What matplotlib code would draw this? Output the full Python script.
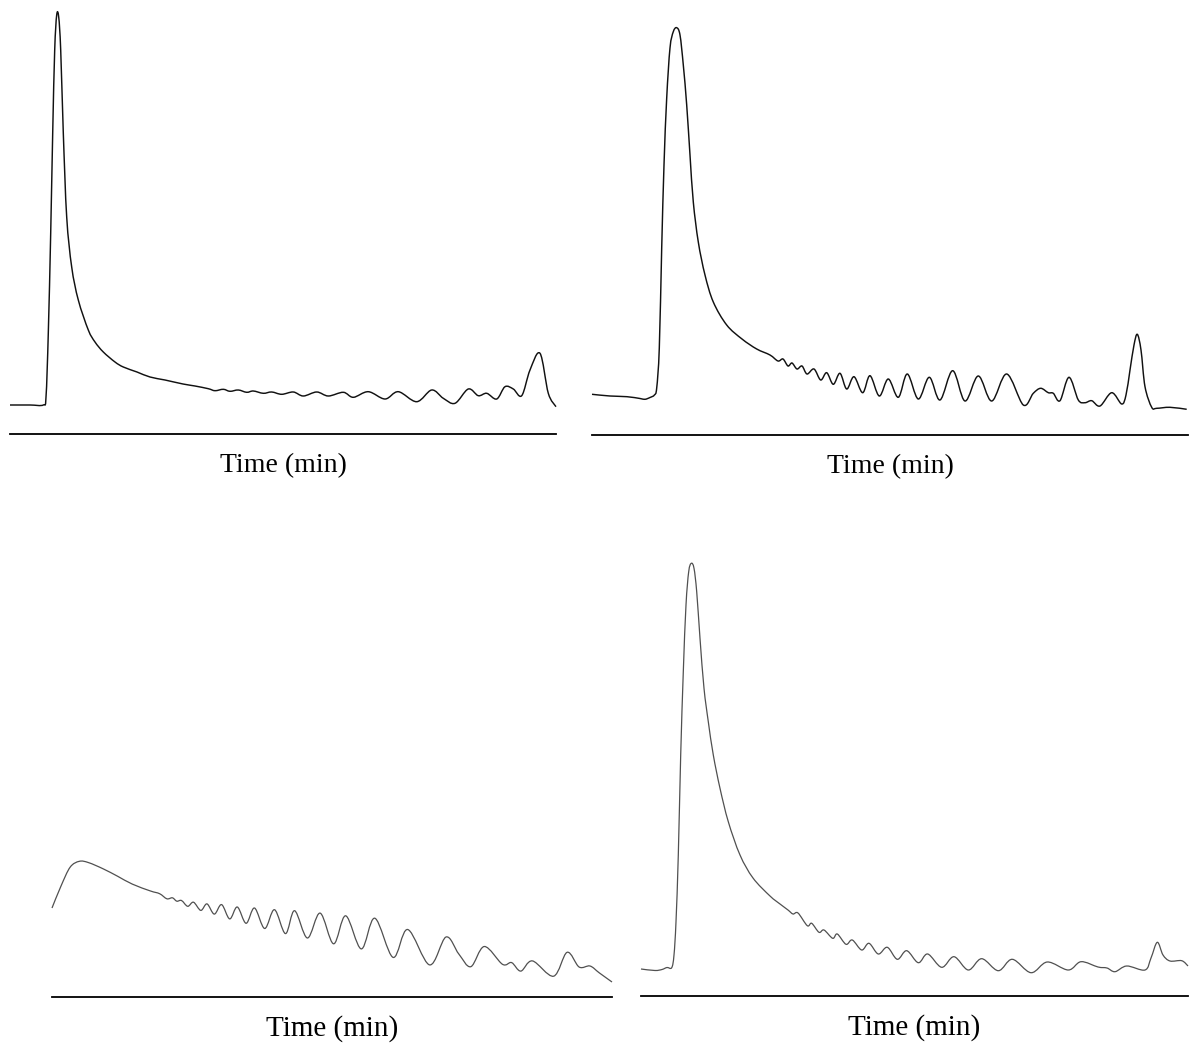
import matplotlib
matplotlib.use("Agg")
import matplotlib.pyplot as plt
from matplotlib.path import Path
from matplotlib.patches import PathPatch

plt.rcParams['font.family'] = ['Liberation Serif', 'DejaVu Serif']

# trace A (top left): time vs detector response
a_t = [0, 20, 33.3, 36, 38.3, 40.7, 42.7, 44.7, 46.7, 48.7, 50.7, 53.3, 56.7, 61.7, 68.3,
       78.3, 85, 93.3, 105, 113.3, 127, 140, 155, 173, 185, 198.3, 205, 213.3, 220, 228.3,
       236.7, 243.3, 253.3, 261.7, 271.7, 283.3, 293.3, 306.7, 318.3, 333.3, 343.3, 358.3,
       375, 388.3, 406.7, 421.7, 433.3, 445, 458.3, 468.3, 476.7, 486.7, 495, 503.3, 511.7,
       520, 530, 538.3, 546]
a_y = [29, 29, 29, 37, 101, 201, 301, 384, 419, 417, 384, 301, 217, 167, 134,
       104, 92, 82, 72, 67, 62, 57, 54, 50, 48, 45.3, 43.3, 44.7, 42.7, 44,
       41.7, 43, 40.7, 42, 39.7, 42, 38, 42, 38, 41.7, 36.7, 42.3,
       35, 42.3, 32.3, 44, 35.7, 30.7, 45, 38.3, 40.7, 35, 47.3, 45, 38.3,
       64, 80.7, 40.7, 27.3]

# trace B (top right)
b_t = [0, 18, 35, 48, 53, 58, 62.4, 64.7, 67.3, 69.7, 72, 74.7, 78, 81.3, 84.7, 88, 91.3,
       94.7, 98, 101.3, 106.3, 113, 121.3, 134.7, 150, 164.7, 178, 186, 191, 196, 200, 205,
       210, 215, 222, 228.7, 234.7, 241.3, 248, 254.7, 262, 270.7, 278, 287.3, 296.3, 306.3,
       315.3, 326.3, 337.3, 348, 360.7, 373, 386.3, 399.7, 414.7, 431.3, 441.3, 448.7, 456.3,
       461.3, 468, 477, 486.3, 493, 499.7, 508, 519.7, 529.7, 534, 538, 542, 545.3, 549, 553,
       559.7, 564.7, 578, 594.7]
b_y = [40.7, 39, 38.3, 36.5, 35.7, 37.5, 40, 47, 87, 187, 270, 337, 387, 403.3, 407.3, 400, 370,
       330, 280, 233, 193, 160, 133, 110, 96, 86, 80, 74, 76, 69, 72, 66,
       69, 61, 66, 55, 62.3, 50.7, 61.7, 46, 58.3, 42.3, 59.3, 39, 56, 37.7,
       61, 36, 57.7, 35, 64.3, 34, 59, 34, 61, 30, 41.7, 46.7, 42.3,
       41.7, 34.3, 57.7, 35, 32.3, 34.3, 29, 42.3, 31, 40, 65, 90, 100.7, 85, 48.3,
       27.7, 26.7, 27.7, 25.7]

# trace C (bottom left)
c_t = [0, 9.1, 18.2, 27.4, 36.5, 51.1, 65.7, 80.3, 98.5, 107.6, 114.9, 120.4, 124.8, 129.5,
       135.7, 141.5, 148.8, 155, 162.3, 169.6, 177.7, 185.3, 194.1, 202.5, 212.7, 222.5,
       233.5, 242.6, 255.4, 268.1, 281.6, 293.7, 309.3, 322.8, 341.1, 355.7, 377.6, 394,
       406.8, 418.8, 432.3, 450.5, 459.6, 468.8, 480.4, 501.6, 515.1, 527.1, 538, 547.2, 560]
c_y = [89, 111.2, 129.9, 135.7, 134.4, 128.2, 120.7, 112.9, 106, 103.3, 98.2, 99.2, 95.8, 96.5,
       90.7, 94.8, 86.6, 93.1, 82.9, 92.4, 78.1, 90, 73.7, 89, 68.5, 87.3,
       63.4, 86.3, 59, 83.9, 53.2, 81.2, 48.1, 78.8, 39.6, 67.5, 32.1, 60,
       43, 30.3, 50.5, 32.7, 34.4, 25.9, 36.1, 20.8, 44.7, 30, 31, 24.2, 15]

# trace D (bottom right)
d_t = [0, 14, 21, 26, 30.7, 33, 35, 37.3, 39.7, 42.3, 45, 47.7, 50.3, 53, 55.7, 59, 63,
       67.3, 72.3, 79, 87.3, 99, 112, 129, 139, 147, 152, 157, 166.3, 170.7, 178, 183,
       191.7, 196.3, 205, 211.3, 220.7, 228, 237.3, 246.3, 256.3, 265.7, 277.3, 286.7,
       300.7, 313, 327.3, 340.7, 357.3, 371.3, 390, 406.3, 427.3, 440, 457, 466, 474,
       485.7, 504, 510, 516.3, 522, 529, 540.7, 547]
d_y = [27, 25.5, 26.5, 28.5, 28.3, 41, 74.3, 141, 241, 324.3, 391, 424.3, 432.7, 427.7, 404.3,
       357.7, 307.7, 274.3, 241, 207.7, 174.3, 141, 118, 100, 92, 86, 82, 83, 70.3, 72.7,
       63.7, 66, 57.7, 62, 51.7, 56, 46, 52.7, 42, 48.7, 36.7, 45.3, 33.3, 42,
       28.7, 39.3, 26, 37.3, 25.3, 36.7, 23.3, 34, 26, 34.3, 29, 28, 24.3,
       30, 26, 38, 53.7, 41, 35, 35.3, 30]


def smooth_path(xs, ys):
    # draw the trace as a smooth bezier curve passing through every point
    pts = list(zip(xs, ys))
    n = len(pts)
    verts = [pts[0]]
    codes = [Path.MOVETO]
    for i in range(n - 1):
        p0 = pts[max(i - 1, 0)]
        p1 = pts[i]
        p2 = pts[i + 1]
        p3 = pts[min(i + 2, n - 1)]
        c1 = (p1[0] + (p2[0] - p0[0]) / 6, p1[1] + (p2[1] - p0[1]) / 6)
        c2 = (p2[0] - (p3[0] - p1[0]) / 6, p2[1] - (p3[1] - p1[1]) / 6)
        verts += [c1, c2, p2]
        codes += [Path.CURVE4] * 3
    return Path(verts, codes)


W, H = 1191, 1045
# panel layout in pixels: axis line left, right, y
panels = [
    (a_t, a_y, 10, 556, 434, '#111111', 1.05, 20),
    (b_t, b_y, 592, 1188, 435, '#111111', 1.05, 20),
    (c_t, c_y, 52, 612, 997, '#505050', 0.9, 21),
    (d_t, d_y, 641, 1188, 996, '#505050', 0.9, 21),
]

fig = plt.figure(figsize=(W / 100, H / 100), dpi=100)

for t, y, x0, x1, yl, col, lw, fs in panels:
    w = x1 - x0
    ax = fig.add_axes([x0 / W, (H - yl) / H, w / W, 430 / H])
    ax.add_patch(PathPatch(smooth_path(t, y), fill=False, edgecolor=col, lw=lw,
                           joinstyle='round', clip_on=False))
    ax.set_xlim(0, w)
    ax.set_ylim(0, 430)
    for s in ['top', 'left', 'right']:
        ax.spines[s].set_visible(False)
    ax.spines['bottom'].set_linewidth(1.3)
    ax.set_xticks([])
    ax.set_yticks([])
    ax.patch.set_alpha(0)
    ax.text(w / 2, -32, 'Time (min)', ha='center', va='center', fontsize=fs,
            clip_on=False)

fig.savefig('out.png', dpi=100)
